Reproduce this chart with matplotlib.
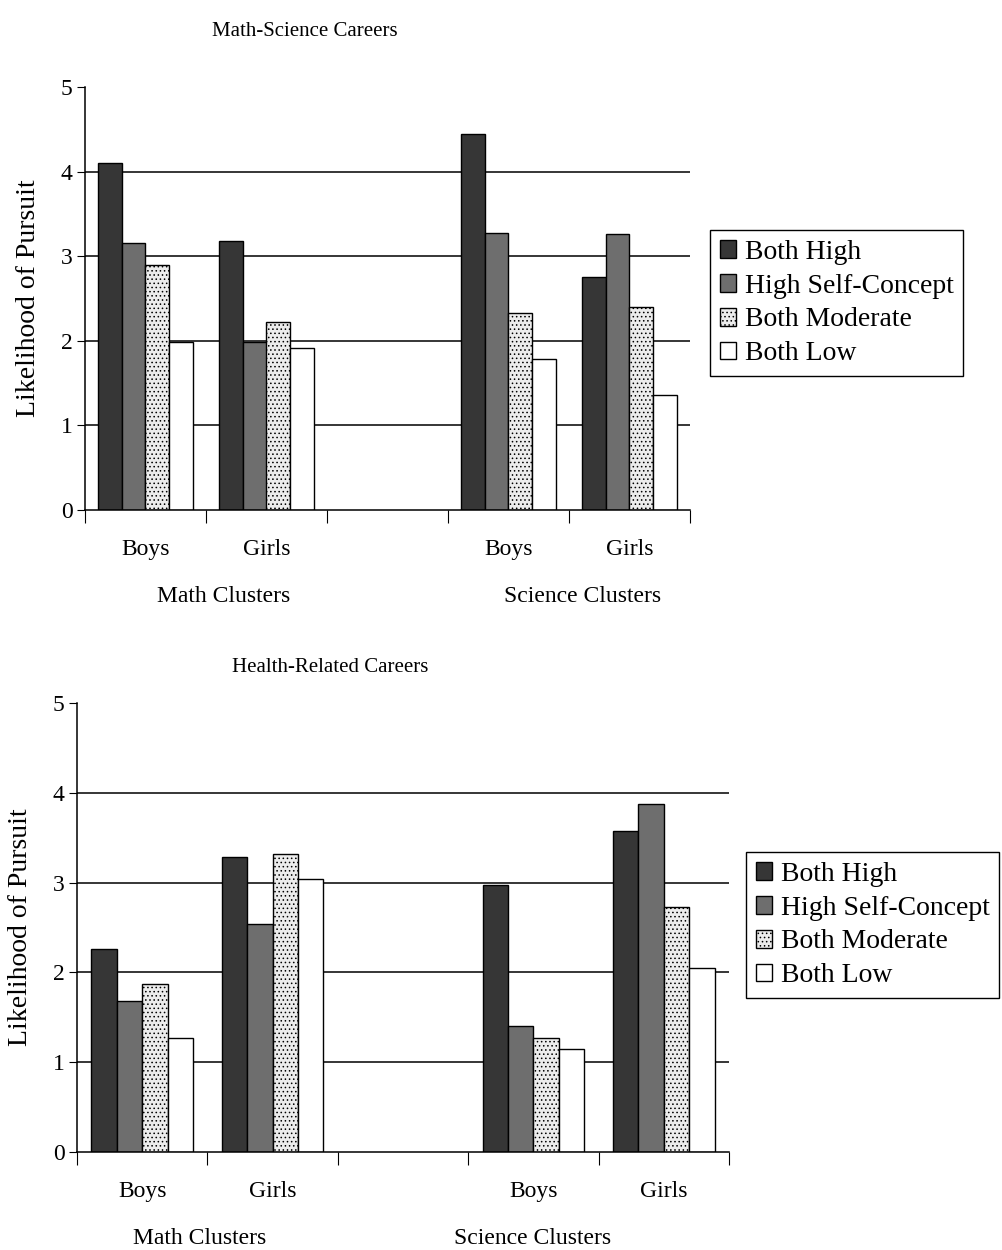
import matplotlib
matplotlib.use("Agg")
import matplotlib.pyplot as plt
import numpy as np

plt.rcParams['font.family'] = ['Liberation Serif', 'DejaVu Serif']
plt.rcParams['hatch.color'] = '#777777'
plt.rcParams['hatch.linewidth'] = 0.6

# groups on x: Math boys, Math girls, (gap), Science boys, Science girls
groups = ["Boys", "Girls", "", "Boys", "Girls"]
series = ["Both High", "High Self-Concept", "Both Moderate", "Both Low"]

# Math-Science careers
ms_both_high = [4.10, 3.18, np.nan, 4.44, 2.75]
ms_high_sc = [3.16, 1.98, np.nan, 3.27, 3.26]
ms_moderate = [2.90, 2.22, np.nan, 2.33, 2.40]
ms_low = [1.98, 1.91, np.nan, 1.78, 1.36]

# Health-related careers
hr_both_high = [2.26, 3.29, np.nan, 2.97, 3.58]
hr_high_sc = [1.68, 2.54, np.nan, 1.40, 3.88]
hr_moderate = [1.87, 3.32, np.nan, 1.27, 2.73]
hr_low = [1.27, 3.04, np.nan, 1.15, 2.05]

styles = [dict(facecolor='#363636', hatch=None),
          dict(facecolor='#6e6e6e', hatch=None),
          dict(facecolor='#ececec', hatch='....'),
          dict(facecolor='white', hatch=None)]

fig = plt.figure(figsize=(10.03, 12.5), dpi=100)


def draw(ax, data):
    x = np.arange(len(groups))
    w = 0.195
    handles = []
    for i, vals in enumerate(data):
        b = ax.bar(x + (i - 1.5) * w, vals, w, edgecolor='black', linewidth=1.0,
                   zorder=2, **styles[i])
        handles.append(b)
    ax.set_ylim(0, 5)
    ax.set_xlim(-0.5, 4.5)
    for yv in [1, 2, 3, 4]:
        ax.axhline(yv, color='black', lw=1.1, zorder=1)
    ax.spines['top'].set_visible(False)
    ax.spines['right'].set_visible(False)
    ax.spines['left'].set_linewidth(1.1)
    ax.spines['bottom'].set_linewidth(1.1)
    ax.set_yticks([0, 1, 2, 3, 4, 5])
    ax.tick_params(axis='y', direction='out', length=6, labelsize=17, pad=3)
    ax.set_xticks(np.arange(-0.5, 5, 1))
    ax.set_xticklabels([])
    ax.set_xticks(x, minor=True)
    ax.set_xticklabels(groups, minor=True)
    ax.tick_params(axis='x', which='major', direction='out', length=9)
    ax.tick_params(axis='x', which='minor', length=0, labelsize=17, pad=21)
    ax.set_ylabel("Likelihood of Pursuit", fontsize=20)
    return handles


leg_kw = dict(loc='upper left', fontsize=20, frameon=True, fancybox=False,
              edgecolor='black', framealpha=1, handlelength=0.6, handleheight=0.6,
              handletextpad=0.3, borderpad=0.35, labelspacing=0.32, borderaxespad=0)

ax1 = fig.add_axes([85 / 1003, 1 - 510 / 1250, 605 / 1003, 423 / 1250])
h = draw(ax1, [ms_both_high, ms_high_sc, ms_moderate, ms_low])
ax1.yaxis.set_label_coords(-0.072, 0.5)
fig.text(305 / 1003, 1 - 32 / 1250, "Math-Science Careers", ha='center', va='center', fontsize=15)
fig.text(224 / 1003, 1 - 597 / 1250, "Math Clusters", ha='center', va='center', fontsize=17)
fig.text(583 / 1003, 1 - 597 / 1250, "Science Clusters", ha='center', va='center', fontsize=17)
fig.legend(h, series, bbox_to_anchor=(710 / 1003, 1 - 230 / 1250), **leg_kw)

ax2 = fig.add_axes([77 / 1003, 1 - 1152 / 1250, 652 / 1003, 449 / 1250])
h = draw(ax2, [hr_both_high, hr_high_sc, hr_moderate, hr_low])
ax2.yaxis.set_label_coords(-0.068, 0.5)
fig.text(330 / 1003, 1 - 668 / 1250, "Health-Related Careers", ha='center', va='center', fontsize=15)
fig.text(200 / 1003, 1 - 1239 / 1250, "Math Clusters", ha='center', va='center', fontsize=17)
fig.text(533 / 1003, 1 - 1239 / 1250, "Science Clusters", ha='center', va='center', fontsize=17)
fig.legend(h, series, bbox_to_anchor=(746 / 1003, 1 - 852 / 1250), **leg_kw)

fig.savefig("out.png", dpi=100)
